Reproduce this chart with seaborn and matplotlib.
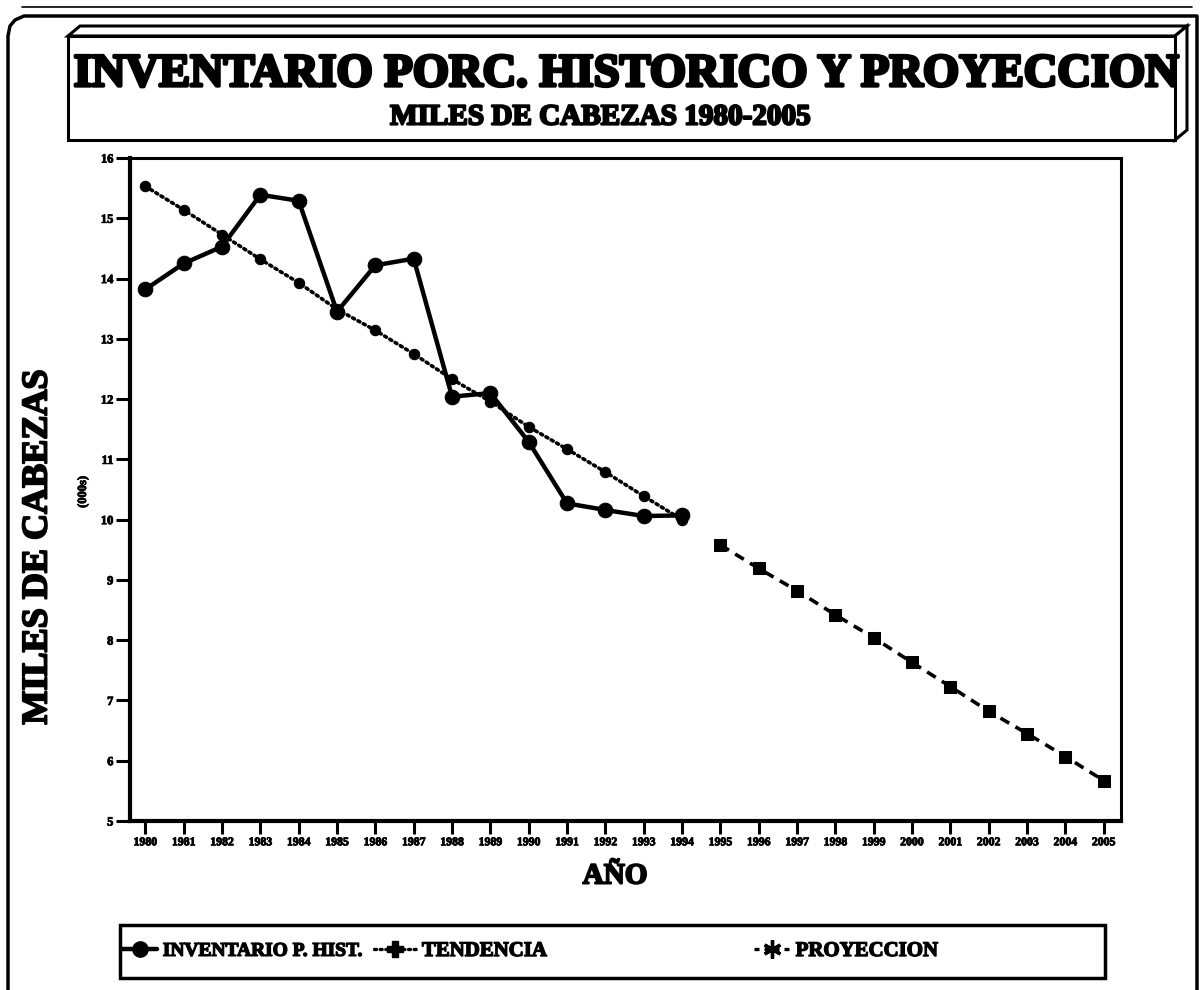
import matplotlib
matplotlib.use("Agg")
import matplotlib.pyplot as plt
import seaborn as sns
from matplotlib.lines import Line2D
from matplotlib.patches import Polygon, Rectangle
import matplotlib.patheffects as pe

# ---------------- data ----------------
years_hist = [1980, 1981, 1982, 1983, 1984, 1985, 1986, 1987, 1988, 1989,
              1990, 1991, 1992, 1993, 1994]
inventario = [13.82, 14.25, 14.53, 15.39, 15.29, 13.45, 14.22, 14.33, 12.04, 12.10,
              11.29, 10.27, 10.16, 10.06, 10.07]

years_tend = [1980, 1981, 1982, 1983, 1984, 1985, 1986, 1987, 1988, 1989,
              1990, 1991, 1992, 1993, 1994]
tendencia = [15.53, 15.14, 14.73, 14.32, 13.93, 13.49, 13.14, 12.75, 12.33, 11.96,
             11.54, 11.17, 10.79, 10.39, 10.00]

years_proj = [1995, 1996, 1997, 1998, 1999, 2000, 2001, 2002, 2003, 2004, 2005]
proyeccion = [9.58, 9.19, 8.82, 8.42, 8.04, 7.63, 7.23, 6.82, 6.45, 6.07, 5.67]

year_ticks = list(range(1980, 2006))
value_ticks = [5, 6, 7, 8, 9, 10, 11, 12, 13, 14, 15, 16]

title = "INVENTARIO PORC. HISTORICO Y PROYECCION"
subtitle = "MILES DE CABEZAS 1980-2005"
ylabel = "MILES DE CABEZAS"
yunit = "(000s)"
xlabel = "AÑO"
lab_hist = "INVENTARIO P. HIST."
lab_tend = "TENDENCIA"
lab_proj = "PROYECCION"

# ---------------- style ----------------
sns.set_theme(style="white")
plt.rcParams['font.family'] = ['Liberation Serif', 'DejaVu Serif']
plt.rcParams['font.weight'] = 'bold'

W, H = 1201, 990
fig = plt.figure(figsize=(W / 100, H / 100), dpi=100)
fig.patch.set_facecolor('white')


def fx(px):
    return px / W


def fy(py):
    return 1 - py / H


heavy = [pe.withStroke(linewidth=1.4, foreground='black')]
light = [pe.withStroke(linewidth=0.6, foreground='black')]

ax = fig.add_axes([fx(130), fy(821), fx(1121) - fx(130), fy(158) - fy(821)])

sns.lineplot(x=years_hist, y=inventario, ax=ax, color='black', linewidth=3.2,
             marker='o', markersize=10.5, markeredgecolor='black',
             markerfacecolor='black', linestyle='-')
sns.lineplot(x=years_tend, y=tendencia, ax=ax, color='black', linewidth=2.6,
             marker='o', markersize=7.5, markeredgecolor='black',
             markerfacecolor='black', linestyle=(0, (0.6, 1.1)),
             dash_capstyle='round')
sns.lineplot(x=years_proj, y=proyeccion, ax=ax, color='black', linewidth=2.6,
             marker='s', markersize=8, markeredgecolor='black',
             markerfacecolor='black', linestyle=(0, (2.8, 2.0)))

ax.set_xlim(1979.6, 2005.45)
ax.set_ylim(5, 16)
ax.set_xticks(year_ticks)
ax.set_xticklabels([str(y) for y in year_ticks])
ax.set_yticks(value_ticks)
ax.set_yticklabels([str(v) for v in value_ticks])
ax.tick_params(axis='x', direction='out', length=9, width=2.2, pad=2,
               labelsize=8.5, colors='black', bottom=True)
ax.tick_params(axis='y', direction='out', length=10, width=2.2, pad=2,
               labelsize=9, colors='black', left=True)
for lbl in ax.get_xticklabels() + ax.get_yticklabels():
    lbl.set_fontweight('bold')
    lbl.set_path_effects(light)
for side, lw in [('left', 3.0), ('bottom', 3.0), ('top', 2.2), ('right', 2.2)]:
    ax.spines[side].set_visible(True)
    ax.spines[side].set_color('black')
    ax.spines[side].set_linewidth(lw)
ax.grid(False)
ax.set_facecolor('white')

ax.set_xlabel(xlabel, fontsize=21, fontweight='bold', color='black')
ax.xaxis.set_label_coords((615 - 130) / 991, (821 - 876) / 663)
ax.xaxis.label.set_verticalalignment('center')
ax.xaxis.label.set_path_effects(heavy)
ax.set_ylabel(ylabel, fontsize=26, fontweight='bold', color='black')
ax.yaxis.set_label_coords((38 - 130) / 991, (821 - 547) / 663)
ax.yaxis.label.set_verticalalignment('center')
ax.yaxis.label.set_path_effects(heavy)
fig.text(fx(83), fy(492), yunit, rotation=90, fontsize=9, fontweight='bold',
         ha='center', va='center', color='black', path_effects=light)

# ---------------- outer frame ----------------
frame_pts = [(8, 995), (8, 36), (10, 26), (15, 20), (24, 16), (1197, 16), (1197, 995)]
fig.add_artist(Line2D([fx(p[0]) for p in frame_pts], [fy(p[1]) for p in frame_pts],
                      transform=fig.transFigure, color='black', linewidth=2.5))
fig.add_artist(Line2D([fx(22), fx(1192)], [fy(7), fy(7)], transform=fig.transFigure,
                      color='black', linewidth=1.2))

# ---------------- 3D title box ----------------
front = [(68, 36), (1175, 36), (1175, 140), (68, 140)]
top = [(68, 36), (80, 26), (1187, 26), (1175, 36)]
right = [(1175, 36), (1187, 26), (1187, 130), (1175, 140)]
for poly in (top, right, front):
    fig.add_artist(Polygon([(fx(a), fy(b)) for a, b in poly], closed=True,
                           transform=fig.transFigure, facecolor='white',
                           edgecolor='black', linewidth=2.2))

fig.text(fx(626), fy(75), title, fontsize=33.5, fontweight='bold', ha='center',
         va='center', color='black', path_effects=[pe.withStroke(linewidth=2.4, foreground='black')])
fig.text(fx(600), fy(117), subtitle, fontsize=21, fontweight='bold', ha='center',
         va='center', color='black', path_effects=[pe.withStroke(linewidth=1.6, foreground='black')])

# ---------------- legend ----------------
fig.add_artist(Rectangle((fx(120), fy(978)), fx(1105) - fx(120), fy(925) - fy(978),
                         transform=fig.transFigure, facecolor='white',
                         edgecolor='black', linewidth=2.5))
h_hist = Line2D([], [], color='black', linewidth=3.2, marker='o', markersize=11)
h_tend = Line2D([], [], color='black', linewidth=2.4, linestyle=(0, (0.6, 1.1)),
                dash_capstyle='round', marker='P', markersize=11)
h_proj = Line2D([], [], color='black', linewidth=2.4, linestyle=(0, (1.5, 1.5)),
                marker=(6, 2, 0), markersize=13, markeredgewidth=2.4)
for handle, label, x0, hl, fs in [(h_hist, lab_hist, 122, 1.8, 14),
                                  (h_tend, lab_tend, 374, 2.0, 15),
                                  (h_proj, lab_proj, 754, 1.7, 15)]:
    leg = fig.legend(handles=[handle], labels=[label], loc='center left',
                     bbox_to_anchor=(fx(x0), fy(951)), frameon=False,
                     fontsize=fs, handlelength=hl, handletextpad=0.3,
                     borderpad=0, borderaxespad=0)
    for t in leg.get_texts():
        t.set_fontweight('bold')
        t.set_color('black')
        t.set_path_effects([pe.withStroke(linewidth=1.0, foreground='black')])

fig.savefig("out.png", dpi=100, facecolor='white')
